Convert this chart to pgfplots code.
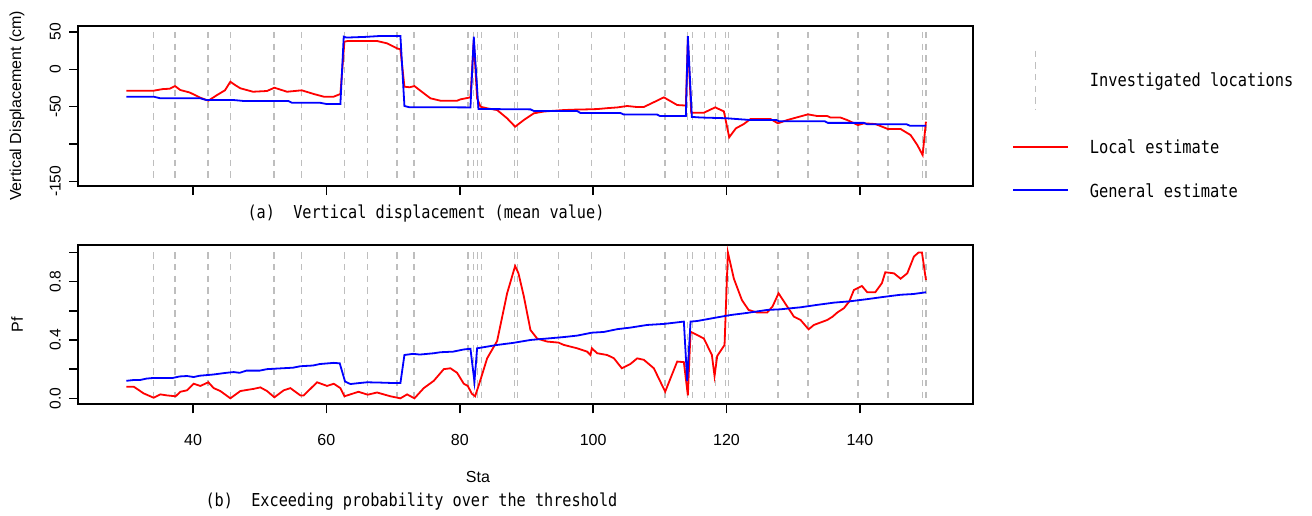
\documentclass[border=0pt]{standalone}
\usepackage{fontspec}
\setmainfont{Liberation Sans}
\newfontfamily\capfont[FakeStretch=0.854]{DejaVu Sans Mono}
\usepackage{pgfplots}
\pgfplotsset{compat=1.18}
\definecolor{rred}{RGB}{255,0,0}
\definecolor{rblue}{RGB}{0,0,255}
\definecolor{rgray}{RGB}{190,190,190}
\pgfplotsset{
  rstyle/.style={
    scale only axis, width=447.5pt, xmin=22.8, xmax=157,
    tick pos=left, tick align=outside, major tick length=4.5pt,
    axis line style={line width=0.9pt},
    every tick/.style={black, line width=0.8pt},
    xtick={40,60,80,100,120,140},
    xticklabel style={font=\fontsize{8}{9.6}\selectfont, inner sep=0pt, anchor=center, yshift=-13.5pt},
    yticklabel style={font=\fontsize{7.8}{9}\selectfont, rotate=90, inner sep=0pt, anchor=center, yshift=7pt},
    every axis y label/.style={at={(axis description cs:-0.0685,0.5)}, rotate=90, anchor=center, font=\fontsize{8}{9.6}\selectfont},
    every axis x label/.style={at={(axis description cs:0.4466,-0.4545)}, anchor=center, font=\fontsize{8}{9.6}\selectfont},
  },
  invloc/.style={color=rgray, line width=0.7pt, dash pattern=on 3.2pt off 2.6pt},
  redl/.style={color=rred, line width=0.9pt},
  bluel/.style={color=rblue, line width=0.9pt},
}
\begin{document}
\begin{tikzpicture}
\path[use as bounding box] (0,0) rectangle (656pt,-257.5pt);
% ---------- top panel ----------
\begin{axis}[rstyle, at={(39.15pt,-93pt)}, anchor=south west, height=80.15pt,
  ymin=-156.2, ymax=58.4,
  xticklabels={},
  ytick={-150,-100,-50,0,50}, yticklabels={-150,,-50,0,50},
  ylabel={Vertical Displacement (cm)}]
\pgfplotsinvokeforeach{34.09,37.32,42.25,45.59,52.16,56.25,62.73,66.18,70.61,73.12,81.23,82.07,82.62,83.27,88.17,88.67,94.81,99.79,104.66,110.78,114.15,114.86,116.67,118.32,119.82,120.27,127.71,132.21,139.70,144.20,149.39,149.90}{
  \addplot[invloc] coordinates {(#1,50) (#1,-150)};
}
\addplot[redl] coordinates {
(30,-28.6) (34.1,-28.6) (35.5,-26.4) (36.5,-26) (37.3,-22.4) (38.1,-27.7) (39.5,-31) (41.1,-38) (42.3,-42) (43.5,-35) (44.8,-28) (45.6,-16.6) (46.3,-21) (47.1,-25.4) (49,-30) (51.1,-29) (52.2,-24.6) (54.1,-30) (56.3,-28.1) (58.1,-33) (59.6,-36.6) (61.1,-36.6) (62.1,-33) (62.7,37) (63.2,37.9) (67.6,37.9) (69.1,34.8) (70.6,28.1) (71.1,26.7) (71.7,-23.3) (72.5,-24) (73.2,-22.4) (74.3,-30) (75.6,-38.8) (77.1,-42) (79.6,-42) (80.1,-40.2) (81.6,-37.5) (82.1,38) (82.6,-38.8) (83.1,-50) (84.1,-52.2) (85.6,-54.5) (87.1,-65.6) (88.3,-76.8) (89.6,-67.9) (91.1,-58.9) (92.6,-56.5) (95.6,-54.5) (97.1,-54) (99.1,-53.6) (100.6,-53.2) (102.1,-52) (103.6,-51) (105.1,-49.1) (106.6,-50.5) (107.6,-50.4) (109.1,-44) (110.6,-37.5) (112.6,-47.8) (113.9,-48.5) (114.2,40) (114.7,-58.1) (116.6,-58.1) (118.3,-50.9) (119.6,-56.3) (120.4,-91) (121.4,-79) (122.6,-73.2) (123.6,-66.5) (126.6,-66.5) (127.7,-72.3) (129.1,-67.9) (130.6,-64.2) (132.2,-60.3) (133.6,-62.5) (135.1,-62.5) (135.6,-64.6) (137.1,-64.6) (138.1,-67.9) (139.7,-74.6) (140.6,-72.3) (142.3,-73.2) (144.2,-79.9) (146.1,-79.9) (147.6,-88) (148.6,-101.3) (149.4,-114.7) (149.9,-70.1)
};
\addplot[bluel] coordinates {
(30,-36.6) (34.1,-36.6) (35.1,-38.8) (41.1,-38.8) (42,-41.1) (46.1,-41.1) (47.6,-42.4) (54.3,-42.4) (54.8,-44.7) (59,-44.7) (60,-46.4) (62.1,-46.4) (62.6,43.7) (63,42.5) (66,43.5) (68,44.6) (71.1,44.6) (71.7,-49.1) (72.5,-50.9) (79.6,-50.9) (81.6,-51) (82.1,43.7) (82.8,-53.1) (90.6,-53.6) (91.1,-55.8) (97.6,-55.8) (98.1,-58.5) (104.1,-58.5) (104.6,-60.6) (109.6,-60.6) (110,-62.4) (113.9,-62.4) (114.2,44.5) (114.8,-63.7) (116.1,-64.5) (120,-65.5) (123.6,-67.9) (127.5,-67.9) (127.8,-69.4) (134.7,-69.4) (135.2,-71.7) (140.6,-71.7) (141.1,-73.6) (147,-73.6) (147.5,-75.5) (149.9,-75.5)
};
\end{axis}
% ---------- bottom panel ----------
\begin{axis}[rstyle, at={(39.15pt,-202.15pt)}, anchor=south west, height=79.65pt,
  ymin=-0.041, ymax=1.051,
  xticklabels={40,60,80,100,120,140},
  ytick={0,0.2,0.4,0.6,0.8,1.0}, yticklabels={0.0,,0.4,,0.8,},
  ylabel={Pf}, xlabel={Sta}]
\pgfplotsinvokeforeach{34.09,37.32,42.25,45.59,52.16,56.25,62.73,66.18,70.61,73.12,81.23,82.07,82.62,83.27,88.17,88.67,94.81,99.79,104.66,110.78,114.15,114.86,116.67,118.32,119.82,120.27,127.71,132.21,139.70,144.20,149.39,149.90}{
  \addplot[invloc] coordinates {(#1,1.0) (#1,-0.02)};
}
\addplot[redl] coordinates {
(30,0.08) (31.1,0.08) (32.6,0.034) (34.1,0.004) (35.1,0.027) (36.1,0.02) (37.4,0.014) (38.1,0.045) (39.1,0.055) (40.1,0.10) (41.1,0.085) (42.3,0.11) (43.1,0.07) (44.1,0.05) (45.6,0.0) (47.1,0.05) (49.1,0.065) (50.1,0.075) (51.1,0.05) (52.2,0.007) (53.6,0.055) (54.6,0.07) (56.1,0.02) (56.6,0.02) (58.6,0.11) (60.1,0.085) (61.1,0.1) (62.1,0.07) (62.7,0.014) (63.6,0.027) (64.8,0.045) (66.2,0.025) (67.6,0.04) (69.6,0.014) (71.1,0.0) (72.1,0.027) (73.2,0.0) (74.6,0.07) (76.1,0.12) (77.6,0.2) (78.6,0.206) (79.6,0.175) (80.6,0.10) (81.2,0.085) (81.8,0.032) (82.3,0.014) (83.1,0.126) (84.1,0.274) (85.6,0.393) (87.1,0.72) (88.3,0.907) (88.8,0.857) (89.6,0.7) (90.6,0.468) (91.6,0.41) (93.1,0.389) (94.8,0.382) (95.6,0.366) (97.6,0.343) (99.1,0.32) (99.6,0.297) (99.8,0.343) (100.6,0.309) (102.1,0.297) (103.1,0.275) (104.3,0.206) (105.6,0.236) (106.6,0.274) (107.6,0.264) (109.1,0.206) (110.8,0.046) (112.6,0.252) (113.6,0.248) (114.2,0.02) (114.6,0.457) (115.6,0.434) (116.6,0.41) (117.8,0.297) (118.2,0.153) (118.6,0.29) (119.7,0.366) (120.2,1.0) (121.1,0.82) (122.3,0.674) (123.3,0.606) (124.6,0.588) (126.1,0.588) (126.9,0.63) (127.8,0.72) (128.6,0.664) (130.1,0.56) (131.1,0.537) (132.3,0.473) (133.1,0.503) (135.1,0.537) (135.9,0.56) (136.6,0.588) (137.6,0.618) (138.4,0.664) (139.1,0.743) (140.3,0.77) (141.1,0.727) (142.3,0.727) (143.3,0.79) (143.8,0.864) (145.1,0.857) (146.1,0.82) (147.1,0.857) (148.1,0.972) (148.8,1.0) (149.3,1.0) (149.9,0.811)
};
\addplot[bluel] coordinates {
(30,0.12) (31,0.125) (32,0.125) (33,0.135) (34.1,0.14) (37,0.14) (38,0.15) (39.1,0.153) (40.1,0.146) (41,0.155) (43,0.163) (45,0.175) (46.1,0.18) (47,0.175) (48,0.19) (50,0.19) (51.1,0.2) (53,0.205) (55,0.21) (56.1,0.22) (58,0.225) (59,0.235) (61.1,0.243) (62,0.24) (62.8,0.115) (63.6,0.098) (65,0.105) (66.1,0.11) (68,0.108) (70,0.105) (71.1,0.105) (71.7,0.297) (73,0.305) (74,0.3) (76.1,0.309) (77.1,0.316) (79,0.32) (80.6,0.335) (81.6,0.34) (82.2,0.114) (82.6,0.343) (85.6,0.366) (88,0.38) (90.6,0.4) (93.1,0.41) (95.6,0.42) (97.6,0.43) (99.8,0.45) (101.6,0.455) (103.6,0.474) (105.6,0.485) (108.1,0.503) (110.6,0.51) (113.6,0.526) (114.1,0.119) (114.6,0.526) (115.6,0.53) (118,0.55) (120.6,0.571) (123,0.585) (126.1,0.606) (128,0.61) (131.1,0.624) (133.5,0.64) (136.1,0.656) (138.5,0.665) (141.1,0.68) (143.5,0.695) (146.1,0.71) (148,0.715) (149.9,0.727)
};
\end{axis}
% ---------- captions ----------
\node[font=\capfont\fontsize{8.9}{10}\selectfont, inner sep=0pt] at (213pt,-107pt) {(a)\ \ Vertical displacement (mean value)};
\node[font=\capfont\fontsize{8.9}{10}\selectfont, inner sep=0pt] at (205.75pt,-251pt) {(b)\ \ Exceeding probability over the threshold};
% ---------- legend ----------
\draw[gray!50, line width=0.7pt, dash pattern=on 3.2pt off 2.6pt] (517.85pt,-25.35pt) -- (517.85pt,-55pt);
\draw[red, line width=1pt] (506.5pt,-73.5pt) -- (534pt,-73.5pt);
\draw[blue, line width=1pt] (506.5pt,-94.85pt) -- (534pt,-94.85pt);
\node[font=\capfont\fontsize{9}{10}\selectfont, inner sep=0pt, anchor=west] at (544.75pt,-41pt) {Investigated locations};
\node[font=\capfont\fontsize{9}{10}\selectfont, inner sep=0pt, anchor=west] at (544.75pt,-73.5pt) {Local estimate};
\node[font=\capfont\fontsize{9}{10}\selectfont, inner sep=0pt, anchor=west] at (544.75pt,-95.35pt) {General estimate};
\end{tikzpicture}
\end{document}
